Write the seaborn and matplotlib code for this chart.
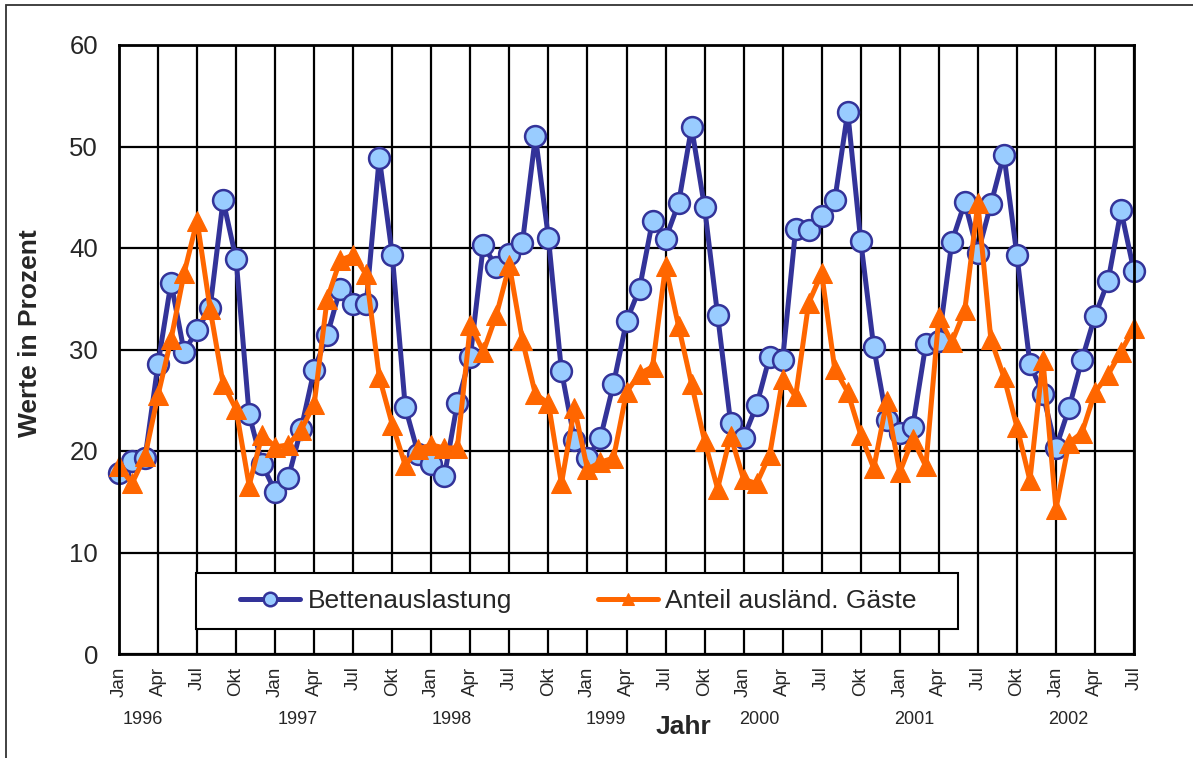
import numpy as np
import pandas as pd
import seaborn as sns
import matplotlib.pyplot as plt
from matplotlib.patches import Rectangle

# monthly values Jan 1996 .. Jul 2002
betten = [17.8, 19.0, 19.3, 28.6, 36.6, 29.8, 31.9, 34.1, 44.7, 38.9, 23.6, 18.7,
          16.0, 17.3, 22.2, 28.0, 31.4, 36.0, 34.5, 34.5, 48.9, 39.3, 24.3, 19.7,
          18.7, 17.5, 24.7, 29.3, 40.3, 38.1, 39.4, 40.5, 51.0, 41.0, 27.9, 21.1,
          19.3, 21.3, 26.6, 32.8, 36.0, 42.7, 40.9, 44.4, 51.9, 44.0, 33.4, 22.8,
          21.3, 24.5, 29.3, 29.0, 41.9, 41.8, 43.2, 44.7, 53.4, 40.7, 30.2, 23.1,
          21.8, 22.4, 30.5, 30.8, 40.6, 44.5, 39.5, 44.3, 49.2, 39.3, 28.6, 25.6,
          20.3, 24.2, 29.0, 33.3, 36.7, 43.7, 37.7]
auslaender = [18.5, 16.8, 19.5, 25.5, 31.0, 37.5, 42.7, 34.0, 26.6, 24.1, 16.6, 21.6,
              20.4, 20.6, 22.1, 24.6, 35.0, 38.8, 39.3, 37.4, 27.3, 22.6, 18.6, 20.2,
              20.6, 20.3, 20.3, 32.4, 29.8, 33.4, 38.3, 30.9, 25.6, 24.7, 16.8, 24.2,
              18.2, 18.9, 19.3, 25.8, 27.6, 28.3, 38.2, 32.3, 26.6, 21.0, 16.3, 21.5,
              17.2, 16.8, 19.6, 27.1, 25.4, 34.6, 37.5, 28.1, 25.8, 21.6, 18.3, 24.9,
              17.9, 21.2, 18.5, 33.2, 30.7, 33.9, 44.4, 31.0, 27.3, 22.4, 17.1, 29.0,
              14.3, 20.8, 21.8, 25.8, 27.5, 29.8, 32.1]
quarter_labels = ["Jan", "Apr", "Jul", "Okt"]
years = ["1996", "1997", "1998", "1999", "2000", "2001", "2002"]

df = pd.DataFrame({"monat": np.arange(len(betten)),
                   "Bettenauslastung": betten,
                   "Anteil ausländ. Gäste": auslaender})

sns.set_style("white")
plt.rcParams["font.family"] = ["Liberation Sans", "DejaVu Sans"]

W, H = 1193, 758
fig = plt.figure(figsize=(W / 100, H / 100), dpi=100)
ax = fig.add_axes([119 / W, 1 - 654 / H, (1134 - 119) / W, (654 - 45) / H])

sns.lineplot(data=df, x="monat", y="Bettenauslastung", ax=ax, color="#333399",
             linewidth=3.6, marker="o", markersize=15, markerfacecolor="#99CCFF",
             markeredgecolor="#333399", markeredgewidth=1.8, label="Bettenauslastung",
             clip_on=False)
sns.lineplot(data=df, x="monat", y="Anteil ausländ. Gäste", ax=ax, color="#FF6600",
             linewidth=3.6, marker="^", markersize=14, markerfacecolor="#FF6600",
             markeredgecolor="#FF6600", label="Anteil ausländ. Gäste", clip_on=False)

ax.set_xlim(0, len(betten) - 1)
ax.set_ylim(0, 60)
xt = np.arange(0, len(betten), 3)
ax.set_xticks(xt)
ax.set_xticklabels([quarter_labels[i % 4] for i in range(len(xt))], rotation=90,
                   fontsize=13.5)
ax.set_yticks(range(0, 61, 10))
ax.tick_params(axis="y", labelsize=18.5, length=5, width=1, color="black", pad=10)
ax.tick_params(axis="x", length=0, pad=9)
ax.grid(True, color="black", linewidth=1.6)
for s in ax.spines.values():
    s.set_color("black")
    s.set_linewidth(2)
ax.set_xlabel("")
ax.set_ylabel("")

# year labels under the month labels
for k, yr in enumerate(years):
    fig.text((119 + 13.01 * (1.85 + 11.85 * k)) / W, 1 - 719 / H, yr,
             ha="center", va="center", fontsize=13)

fig.text(683 / W, 1 - 727 / H, "Jahr", ha="center", va="center",
         fontsize=19, fontweight="bold")
fig.text(30 / W, 1 - 333 / H, "Werte in Prozent", ha="center", va="center",
         rotation=90, fontsize=19, fontweight="bold")

# legend box drawn separately, entries placed inside it
ax.get_legend().remove()
fig.patches.append(Rectangle((196 / W, 1 - 629 / H), 762 / W, 56 / H,
                             transform=fig.transFigure, facecolor="white",
                             edgecolor="black", linewidth=1.5, zorder=3))
handles, labels = ax.get_legend_handles_labels()
fig.legend(handles, labels, loc="center", ncol=2, mode="expand",
           bbox_to_anchor=(240 / W, 1 - 629 / H, (917 - 240) / W, 56 / H),
           fontsize=19, markerscale=0.65, handlelength=2.27, handletextpad=0.3,
           borderpad=0, borderaxespad=0, frameon=False)

fig.patches.append(Rectangle((6 / W, -0.1), 1.2, 0.1 + 1 - 5 / H,
                             transform=fig.transFigure, fill=False,
                             edgecolor="#333333", linewidth=1.3))

fig.savefig("out.png", dpi=100)
